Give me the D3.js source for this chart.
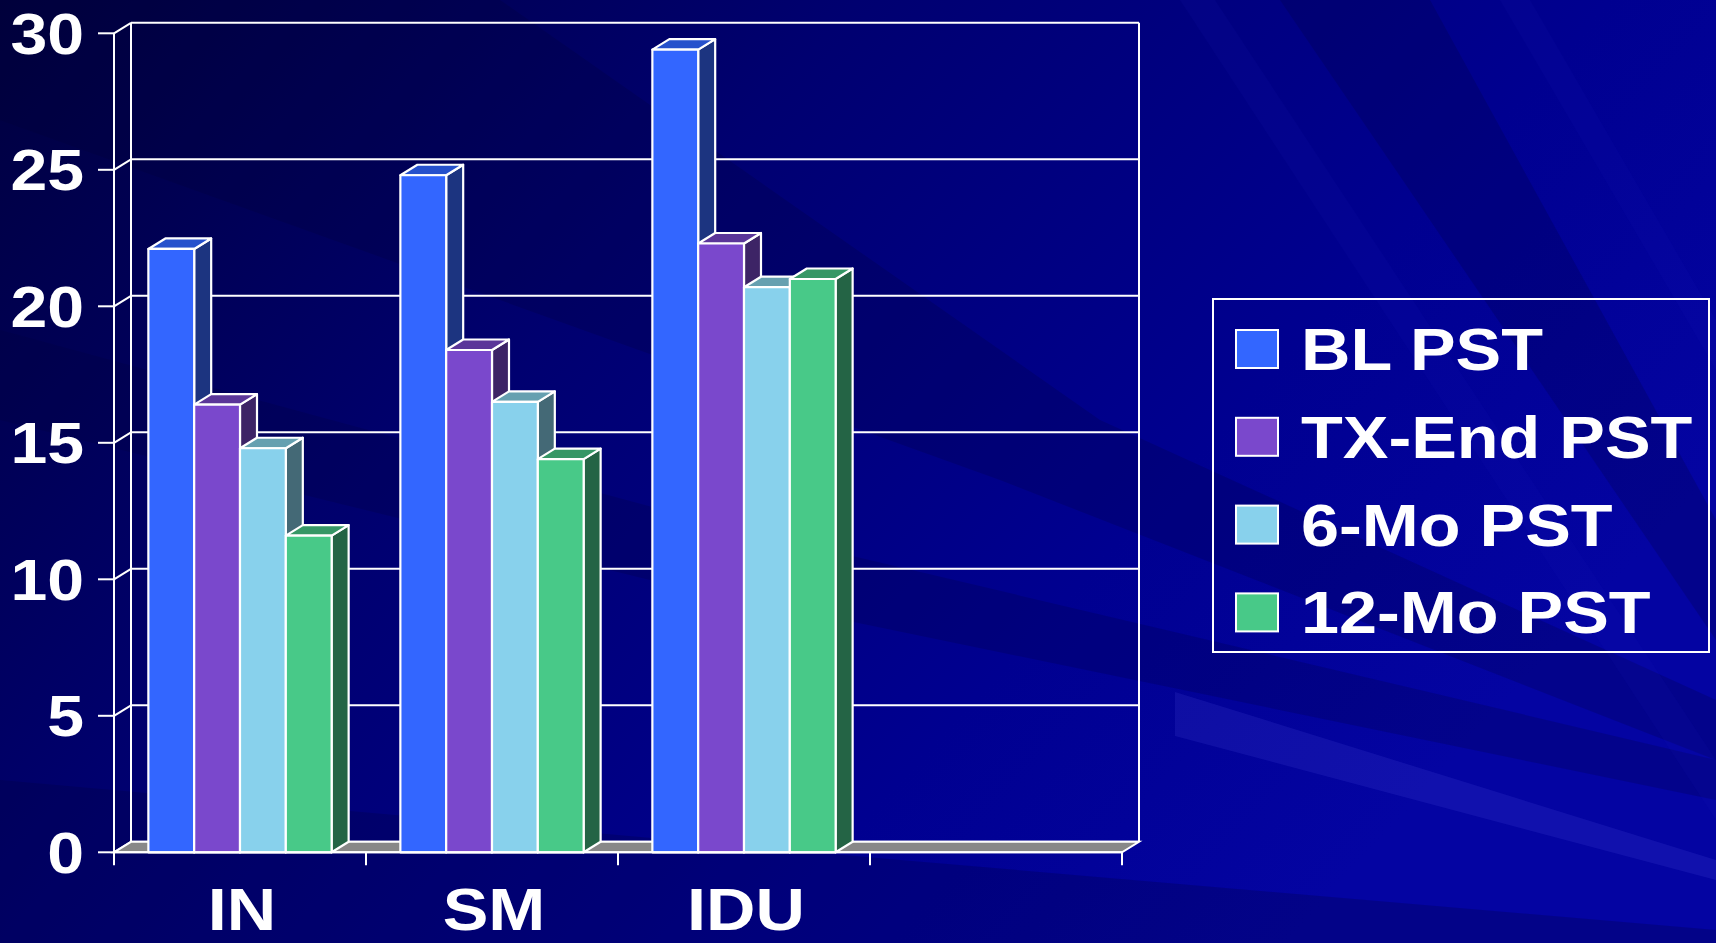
<!DOCTYPE html>
<html>
<head>
<meta charset="utf-8">
<script src="https://cdn.jsdelivr.net/npm/d3@7"></script>
<style>
	html, body { margin: 0; padding: 0; background: #000080; overflow: hidden; }
	text { font-family: "Liberation Sans", Arial, sans-serif; font-weight: bold; fill: #fff; }
</style>
</head>
<body>
<div class="chartDiv"></div>
<script>
var categories = ["IN", "SM", "IDU", ""];
var seriesNames = ["BL PST", "TX-End PST", "6-Mo PST", "12-Mo PST"];
var blValues = [22.1, 24.8, 29.4];
var txEndValues = [16.4, 18.4, 22.3];
var sixMoValues = [14.8, 16.5, 20.7];
var twelveMoValues = [11.6, 14.4, 21.0];
var yTicks = [0, 5, 10, 15, 20, 25, 30];

var seriesValues = [blValues, txEndValues, sixMoValues, twelveMoValues];
// front, side, top shades for each series
var colors = [
	{front: "#3366ff", side: "#1c3480", top: "#2651cc"},
	{front: "#7a48cc", side: "#3d2466", top: "#5b3699"},
	{front: "#88d1ec", side: "#446976", top: "#66a0b0"},
	{front: "#48c988", side: "#246445", top: "#369766"}
];

var W = 1716, H = 943;
var dx = 17, dy = -10.5;   // depth offset of the 3d box
var stretch = 1.14;

var svg = d3.select(".chartDiv").append("svg")
	.attr("width", W)
	.attr("height", H);

// background
var defs = svg.append("defs");
var grad = defs.append("linearGradient")
	.attr("id", "bg")
	.attr("x1", "0").attr("y1", "0")
	.attr("x2", "1").attr("y2", "0.5");
grad.append("stop").attr("offset", "0").attr("stop-color", "#00003e");
grad.append("stop").attr("offset", "0.4").attr("stop-color", "#000070");
grad.append("stop").attr("offset", "0.75").attr("stop-color", "#000090");
grad.append("stop").attr("offset", "1").attr("stop-color", "#0404a2");
svg.append("rect").attr("width", W).attr("height", H).attr("fill", "url(#bg)");

var streaks = [
	{pts: [[0, 330], [700, 520], [1716, 760], [1716, 800], [650, 580], [0, 420]], fill: "rgba(0,0,60,0.22)"},
	{pts: [[0, 0], [500, 0], [1100, 420], [1716, 700], [1716, 760], [1000, 480], [0, 120]], fill: "rgba(0,0,50,0.2)"},
	{pts: [[0, 780], [900, 860], [1716, 930], [1716, 943], [0, 943]], fill: "rgba(0,0,60,0.25)"},
	{pts: [[1175, 692], [1716, 860], [1716, 880], [1175, 736]], fill: "rgba(90,90,230,0.16)"},
	{pts: [[1280, 0], [1430, 0], [1716, 520], [1716, 640]], fill: "rgba(0,0,60,0.22)"},
	{pts: [[1180, 0], [1215, 0], [1716, 760], [1716, 820]], fill: "rgba(30,30,190,0.1)"},
	{pts: [[1500, 0], [1530, 0], [1716, 320], [1716, 370]], fill: "rgba(30,30,190,0.1)"}
];
svg.selectAll(".streak")
	.data(streaks)
	.enter().append("path")
	.attr("class", "streak")
	.attr("d", function (d) { return "M" + d.pts.join("L") + "Z"; })
	.attr("fill", function (d) { return d.fill; });

var xScale = d3.scaleBand()
	.domain(categories)
	.range([114, 1122])
	.paddingInner(1.5 / 5.5)
	.paddingOuter(0.75 / 5.5);

var xStep = xScale.step();

var xSeries = d3.scaleBand()
	.domain(d3.range(seriesNames.length))
	.range([0, xScale.bandwidth()]);

var yScale = d3.scaleLinear()
	.domain([0, 30])
	.range([852.3, 33.3]);

var left = 114, right = 1122;
var y0 = yScale(0), yTop = yScale(30);

var g = svg.append("g");

// back wall gridlines
g.selectAll(".grid")
	.data(yTicks)
	.enter().append("line")
	.attr("class", "grid")
	.attr("x1", left + dx).attr("x2", right + dx)
	.attr("y1", function (d) { return yScale(d) + dy; })
	.attr("y2", function (d) { return yScale(d) + dy; })
	.attr("stroke", "#fff").attr("stroke-width", 2);

// side wall diagonals
g.selectAll(".diag")
	.data(yTicks)
	.enter().append("line")
	.attr("class", "diag")
	.attr("x1", left).attr("x2", left + dx)
	.attr("y1", function (d) { return yScale(d); })
	.attr("y2", function (d) { return yScale(d) + dy; })
	.attr("stroke", "#fff").attr("stroke-width", 2);

// floor
g.append("path")
	.attr("d", "M" + [[left, y0], [right, y0], [right + dx, y0 + dy], [left + dx, y0 + dy]].join("L") + "Z")
	.attr("fill", "#888")
	.attr("stroke", "#fff").attr("stroke-width", 2);

// wall edges
g.append("line")
	.attr("x1", left + dx).attr("x2", left + dx)
	.attr("y1", yTop + dy).attr("y2", y0 + dy)
	.attr("stroke", "#fff").attr("stroke-width", 2);
g.append("line")
	.attr("x1", right + dx).attr("x2", right + dx)
	.attr("y1", yTop + dy).attr("y2", y0 + dy)
	.attr("stroke", "#fff").attr("stroke-width", 2);
g.append("line")
	.attr("x1", left).attr("x2", left)
	.attr("y1", yTop).attr("y2", y0)
	.attr("stroke", "#fff").attr("stroke-width", 2);

// y ticks and labels
g.selectAll(".ytick")
	.data(yTicks)
	.enter().append("line")
	.attr("class", "ytick")
	.attr("x1", left - 16).attr("x2", left)
	.attr("y1", function (d) { return yScale(d); })
	.attr("y2", function (d) { return yScale(d); })
	.attr("stroke", "#fff").attr("stroke-width", 2);

g.selectAll(".ylabel")
	.data(yTicks)
	.enter().append("text")
	.attr("class", "ylabel")
	.attr("text-anchor", "end")
	.attr("font-size", 58)
	.attr("transform", function (d) { return "translate(84," + (yScale(d) + 20.5) + ") scale(" + stretch + ",1)"; })
	.text(String);

// x ticks
var xTickPos = categories.map(function (c) { return xScale(c) - xScale.paddingOuter() * xStep; });
xTickPos.push(right);
g.selectAll(".xtick")
	.data(xTickPos)
	.enter().append("line")
	.attr("class", "xtick")
	.attr("x1", function (d) { return d; }).attr("x2", function (d) { return d; })
	.attr("y1", y0).attr("y2", y0 + 13)
	.attr("stroke", "#fff").attr("stroke-width", 2);

g.selectAll(".xlabel")
	.data(categories)
	.enter().append("text")
	.attr("class", "xlabel")
	.attr("text-anchor", "middle")
	.attr("font-size", 60)
	.attr("transform", function (d) { return "translate(" + (xScale(d) + xScale.bandwidth() / 2 + 2) + ",930) scale(" + stretch + ",1)"; })
	.text(String);

// 3d bars
var bars = [];
categories.forEach(function (c, i) {
	seriesValues.forEach(function (vals, j) {
		if (vals[i] == null) return;
		bars.push({cat: c, s: j, v: vals[i]});
	});
});

function poly(p) { return "M" + p.join("L") + "Z"; }

var barG = g.selectAll(".bar")
	.data(bars)
	.enter().append("g")
	.attr("class", "bar");

barG.each(function (d) {
	var x = xScale(d.cat) + xSeries(d.s);
	var w = xSeries.bandwidth();
	var yt = yScale(d.v);
	var sel = d3.select(this);
	sel.append("path")
		.attr("d", poly([[x + w, yt], [x + w + dx, yt + dy], [x + w + dx, y0 + dy], [x + w, y0]]))
		.attr("fill", colors[d.s].side);
	sel.append("path")
		.attr("d", poly([[x, yt], [x + dx, yt + dy], [x + w + dx, yt + dy], [x + w, yt]]))
		.attr("fill", colors[d.s].top);
	sel.append("rect")
		.attr("x", x).attr("y", yt)
		.attr("width", w).attr("height", y0 - yt)
		.attr("fill", colors[d.s].front);
	sel.selectAll("path, rect")
		.attr("stroke", "#fff").attr("stroke-width", 2.2).attr("stroke-linejoin", "round");
});

// front floor edge
g.append("line")
	.attr("x1", left).attr("x2", right)
	.attr("y1", y0).attr("y2", y0)
	.attr("stroke", "#fff").attr("stroke-width", 2);

// legend
var legend = svg.append("g").attr("class", "legend");
legend.append("rect")
	.attr("x", 1213).attr("y", 299)
	.attr("width", 496).attr("height", 353)
	.attr("fill", "none")
	.attr("stroke", "#fff").attr("stroke-width", 2);

var item = legend.selectAll(".item")
	.data(seriesNames)
	.enter().append("g")
	.attr("class", "item")
	.attr("transform", function (d, i) { return "translate(0," + (i * 87.8) + ")"; });

item.append("rect")
	.attr("x", 1236).attr("y", 330)
	.attr("width", 42).attr("height", 38)
	.attr("fill", function (d, i) { return colors[i].front; })
	.attr("stroke", "#fff").attr("stroke-width", 2);

item.append("text")
	.attr("font-size", 60)
	.attr("transform", "translate(1301,370) scale(" + stretch + ",1)")
	.text(String);
</script>
</body>
</html>
